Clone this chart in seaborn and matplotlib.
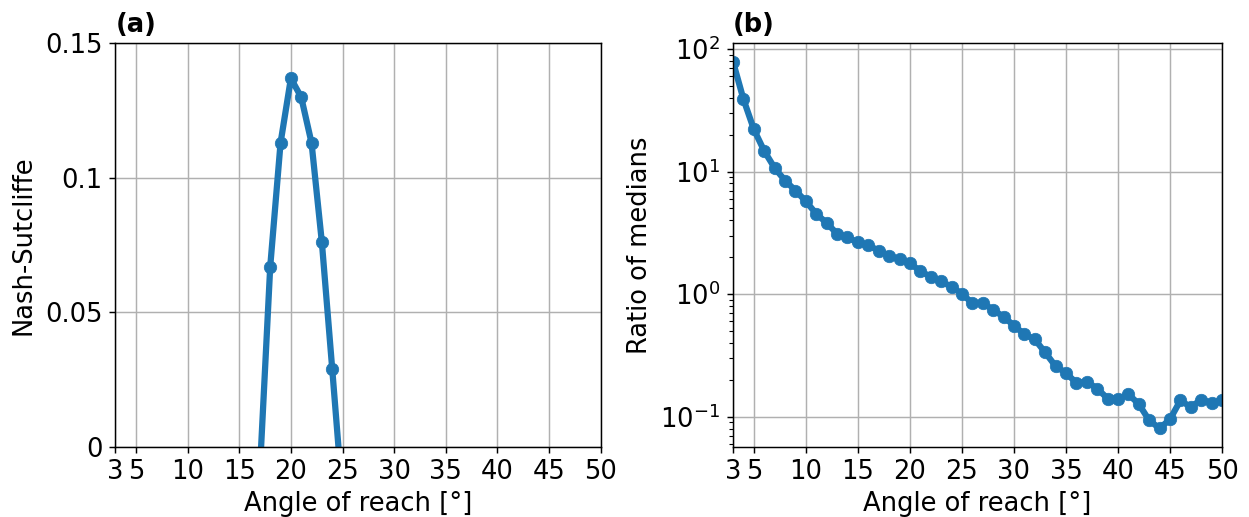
import matplotlib
matplotlib.use("Agg")
import matplotlib.pyplot as plt
import matplotlib.ticker as mticker
import numpy as np
import pandas as pd
import seaborn as sns

# Panel (a): Nash-Sutcliffe efficiency around its peak
nse_angle = [17, 18, 19, 20, 21, 22, 23, 24, 25]
nse_value = [-0.009, 0.067, 0.113, 0.137, 0.130, 0.113, 0.076, 0.029, -0.019]

# Panel (b): ratio of medians for every angle of reach
ratio_angle = list(range(3, 51))
ratio_value = [78.6, 38.9, 22.1, 14.7, 10.7, 8.45, 7.0, 5.72, 4.52, 3.81,
               3.11, 2.90, 2.64, 2.50, 2.27, 2.06, 1.93, 1.79, 1.54, 1.39,
               1.27, 1.15, 1.01, 0.844, 0.853, 0.744, 0.656, 0.554, 0.471, 0.428,
               0.335, 0.259, 0.228, 0.189, 0.193, 0.170, 0.141, 0.139, 0.153, 0.127,
               0.0936, 0.0805, 0.0954, 0.136, 0.120, 0.138, 0.130, 0.136]

x_ticks = [3, 5, 10, 15, 20, 25, 30, 35, 40, 45, 50]
nse_ticks = [0, 0.05, 0.1, 0.15]

FS = 18.5
LINE_COLOR = "#1f77b4"

plt.rcParams.update({
    "font.family": ["DejaVu Sans"],
    "axes.linewidth": 1.05,
    "xtick.major.width": 1.05,
    "ytick.major.width": 1.05,
    "xtick.minor.width": 0.8,
    "ytick.minor.width": 0.8,
    "xtick.major.size": 4.6,
    "ytick.major.size": 4.6,
    "ytick.minor.size": 2.6,
    "xtick.major.pad": 4.6,
    "ytick.major.pad": 4.6,
})

fig = plt.figure(figsize=(12.49, 5.17), dpi=100)
ax_a = fig.add_axes([0.0923, 0.136, 0.3887, 0.780])
ax_b = fig.add_axes([0.5869, 0.136, 0.3915, 0.780])

df_a = pd.DataFrame({"angle": nse_angle, "nse": nse_value})
df_b = pd.DataFrame({"angle": ratio_angle, "ratio": ratio_value})

line_kw = dict(color=LINE_COLOR, linewidth=4.5, marker="o", markersize=9,
               markeredgewidth=0.5, markeredgecolor=LINE_COLOR, legend=False)

sns.lineplot(data=df_a, x="angle", y="nse", ax=ax_a, **line_kw)
sns.lineplot(data=df_b, x="angle", y="ratio", ax=ax_b, **line_kw)

for ax in (ax_a, ax_b):
    ax.set_xlim(3, 50)
    ax.set_xticks(x_ticks)
    ax.set_xticklabels([str(t) for t in x_ticks])
    ax.grid(True, color="#b0b0b0", linewidth=1.05)
    ax.set_axisbelow(True)
    ax.tick_params(labelsize=FS)
    ax.set_xlabel("Angle of reach [°]", fontsize=FS, labelpad=4)

ax_a.set_ylim(0, 0.15)
ax_a.set_yticks(nse_ticks)
ax_a.yaxis.set_major_formatter(mticker.FormatStrFormatter("%g"))
ax_a.set_ylabel("Nash-Sutcliffe", fontsize=FS, labelpad=6)
ax_a.set_title("(a)", loc="left", fontweight="bold", fontsize=18.5, pad=8)

ax_b.set_yscale("log")
ax_b.set_ylabel("Ratio of medians", fontsize=FS, labelpad=5)
ax_b.set_title("(b)", loc="left", fontweight="bold", fontsize=18.5, pad=8)

fig.savefig("out.png", dpi=100)
